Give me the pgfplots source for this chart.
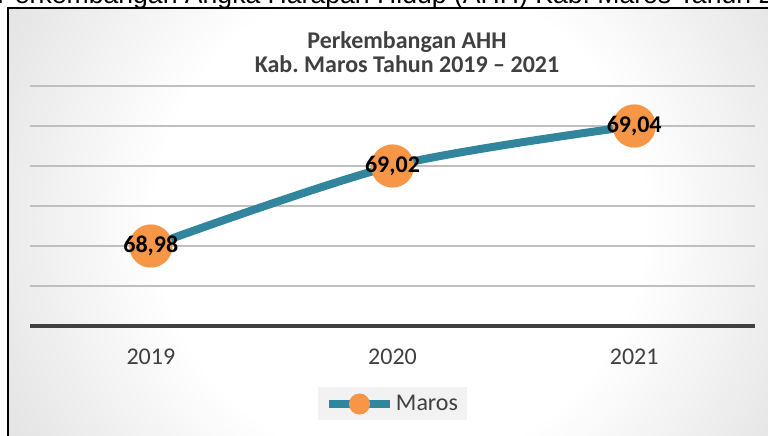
\documentclass[border=0pt]{standalone}
\usepackage{pgfplots}
\pgfplotsset{compat=1.18}
\usepackage{fontspec}
\setmainfont{Carlito}
\newfontfamily\arialfont{Liberation Sans}
\definecolor{lineteal}{HTML}{31859C}
\definecolor{markorange}{HTML}{F79646}
\definecolor{txtgray}{HTML}{404040}
\definecolor{axisgray}{HTML}{404040}
\definecolor{gridgray}{HTML}{BFBFBF}
\pgfdeclareradialshading{bgshade}{\pgfpoint{0bp}{0bp}}{color(0bp)=(white); color(13bp)=(white); color(23bp)=(black!10); color(41bp)=(black!21); color(50bp)=(black!26)}
\frenchspacing
\begin{document}
\begin{tikzpicture}[x=1pt,y=1pt]
\path[use as bounding box] (0,0) rectangle (768,436);
\clip (0,0) rectangle (768,436);
\fill[white] (0,0) rectangle (768,436);
\begin{scope}
\clip (8,-20) rectangle (790,428);
\shade[shading=bgshade] (-70,-254) rectangle (870,686);
\end{scope}
\draw[black, line width=1.5pt] (8,-20) rectangle (790,428);
\node[anchor=base west, inner sep=0pt, font=\arialfont\fontsize{26.6}{30}\selectfont] at (-3,432) {Perkembangan Angka Harapan Hidup (AHH) Kab.\ Maros Tahun 2021};
\node[anchor=base, inner sep=0pt, font=\bfseries\fontsize{24}{28}\selectfont, text=txtgray] at (407,387.7) {Perkembangan AHH};
\node[anchor=base, inner sep=0pt, font=\bfseries\fontsize{24}{28}\selectfont, text=txtgray] at (407,363) {Kab.\ Maros Tahun 2019 – 2021};
\begin{axis}[
  at={(30pt,110pt)}, anchor=south west,
  width=725pt, height=240pt, scale only axis,
  xmin=-0.5, xmax=2.5, ymin=68.94, ymax=69.06,
  axis line style={draw=none},
  xtick={0,1,2}, xticklabels={2019,2020,2021},
  ytick={68.96,68.98,69.00,69.02,69.04,69.06},
  yticklabels={},
  ymajorgrids,
  major grid style={gridgray, line width=1.5pt},
  major tick length=0pt,
  xticklabel style={anchor=center, yshift=-31pt, font=\fontsize{24}{28}\selectfont, text=txtgray},
  clip=false,
  legend style={at={(0.5,-0.325)}, anchor=center, fill=black!5, draw=none, inner xsep=7pt, inner ysep=6pt, font=\fontsize{24}{28}\selectfont, text=txtgray},
  legend image code/.code={
    \draw[lineteal, line width=8pt] (0pt,0pt) -- (61pt,0pt);
    \fill[markorange] (30.5pt,0pt) circle (6.5pt);
  },
]
\addplot[lineteal, line width=8pt, smooth, mark=*, mark size=21.5pt,
  mark options={fill=markorange, draw=markorange, line width=0.1pt},
  point meta=explicit symbolic, nodes near coords,
  nodes near coords style={anchor=center, font=\bfseries\fontsize{24}{28}\selectfont, text=black, inner sep=0pt}]
  table[meta=lab] {
x y lab
0 68.98 68,98
1 69.02 69,02
2 69.04 69,04
};
\addlegendentry{Maros}
\draw[axisgray, line width=3.5pt] (rel axis cs:0,0) -- (rel axis cs:1,0);
\end{axis}
\end{tikzpicture}
\end{document}
